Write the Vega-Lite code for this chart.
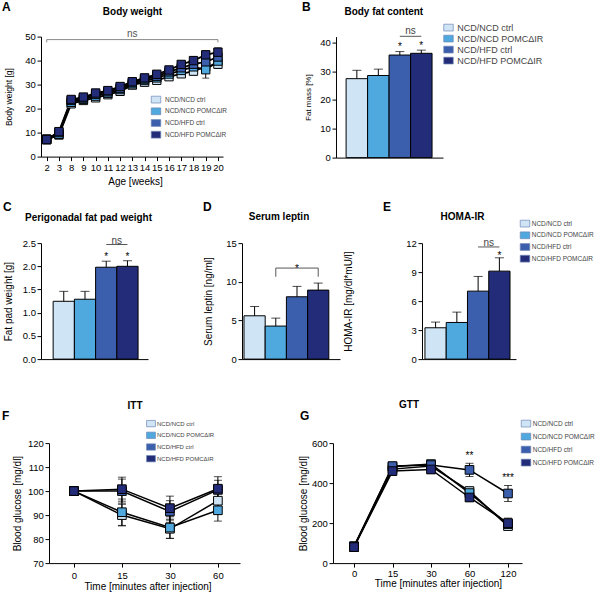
{
  "$schema": "https://vega.github.io/schema/vega-lite/v6.json",
  "background": "white",
  "padding": {"left": 2, "top": 0.6, "right": 0, "bottom": 0},
  "config": {
    "font": "Liberation Sans",
    "view": {"stroke": null},
    "axis": {"labelFontSize": 9.5, "titleFontSize": 10, "tickSize": 4, "labelPadding": 1.6, "domainColor": "black", "tickColor": "black", "labelColor": "black", "titleColor": "black", "titleFontWeight": "normal", "grid": false, "labelFont": "Liberation Sans", "titleFont": "Liberation Sans"},
    "title": {"anchor": "start", "frame": "group", "fontSize": 12, "fontWeight": "bold", "offset": 0, "baseline": "alphabetic", "color": "black", "font": "Liberation Sans"},
    "legend": {"labelFont": "Liberation Sans", "labelColor": "#444", "padding": 0, "symbolType": "M-1.4,-1H1.4V1H-1.4Z", "symbolSize": 46, "symbolStrokeColor": "#6f86b5", "symbolStrokeWidth": 0.7, "labelLimit": 300}
  },
  "datasets": {
    "bw": [
      {"week": 2, "group": "NCD/NCD ctrl", "mean": 7.2, "sem": 0.5},
      {"week": 2, "group": "NCD/NCD POMCΔIR", "mean": 7.0, "sem": 0.5},
      {"week": 2, "group": "NCD/HFD ctrl", "mean": 7.3, "sem": 0.5},
      {"week": 2, "group": "NCD/HFD POMCΔIR", "mean": 7.1, "sem": 0.5},
      {"week": 3, "group": "NCD/NCD ctrl", "mean": 9.0, "sem": 0.6},
      {"week": 3, "group": "NCD/NCD POMCΔIR", "mean": 9.3, "sem": 0.6},
      {"week": 3, "group": "NCD/HFD ctrl", "mean": 10.0, "sem": 0.7},
      {"week": 3, "group": "NCD/HFD POMCΔIR", "mean": 10.4, "sem": 0.7},
      {"week": 8, "group": "NCD/NCD ctrl", "mean": 22.0, "sem": 0.8},
      {"week": 8, "group": "NCD/NCD POMCΔIR", "mean": 22.6, "sem": 0.8},
      {"week": 8, "group": "NCD/HFD ctrl", "mean": 23.4, "sem": 0.8},
      {"week": 8, "group": "NCD/HFD POMCΔIR", "mean": 23.8, "sem": 0.8},
      {"week": 9, "group": "NCD/NCD ctrl", "mean": 23.4, "sem": 0.8},
      {"week": 9, "group": "NCD/NCD POMCΔIR", "mean": 23.9, "sem": 0.8},
      {"week": 9, "group": "NCD/HFD ctrl", "mean": 24.4, "sem": 0.8},
      {"week": 9, "group": "NCD/HFD POMCΔIR", "mean": 24.8, "sem": 0.8},
      {"week": 10, "group": "NCD/NCD ctrl", "mean": 24.5, "sem": 0.9},
      {"week": 10, "group": "NCD/NCD POMCΔIR", "mean": 25.2, "sem": 0.9},
      {"week": 10, "group": "NCD/HFD ctrl", "mean": 26.0, "sem": 0.9},
      {"week": 10, "group": "NCD/HFD POMCΔIR", "mean": 26.5, "sem": 0.9},
      {"week": 11, "group": "NCD/NCD ctrl", "mean": 25.8, "sem": 0.9},
      {"week": 11, "group": "NCD/NCD POMCΔIR", "mean": 26.4, "sem": 0.9},
      {"week": 11, "group": "NCD/HFD ctrl", "mean": 27.0, "sem": 0.9},
      {"week": 11, "group": "NCD/HFD POMCΔIR", "mean": 27.5, "sem": 0.9},
      {"week": 12, "group": "NCD/NCD ctrl", "mean": 27.2, "sem": 1.0},
      {"week": 12, "group": "NCD/NCD POMCΔIR", "mean": 27.9, "sem": 1.0},
      {"week": 12, "group": "NCD/HFD ctrl", "mean": 28.5, "sem": 1.0},
      {"week": 12, "group": "NCD/HFD POMCΔIR", "mean": 29.2, "sem": 1.0},
      {"week": 13, "group": "NCD/NCD ctrl", "mean": 29.8, "sem": 1.0},
      {"week": 13, "group": "NCD/NCD POMCΔIR", "mean": 30.3, "sem": 1.0},
      {"week": 13, "group": "NCD/HFD ctrl", "mean": 30.8, "sem": 1.0},
      {"week": 13, "group": "NCD/HFD POMCΔIR", "mean": 31.2, "sem": 1.0},
      {"week": 14, "group": "NCD/NCD ctrl", "mean": 31.0, "sem": 1.1},
      {"week": 14, "group": "NCD/NCD POMCΔIR", "mean": 31.7, "sem": 1.1},
      {"week": 14, "group": "NCD/HFD ctrl", "mean": 32.3, "sem": 1.1},
      {"week": 14, "group": "NCD/HFD POMCΔIR", "mean": 32.8, "sem": 1.1},
      {"week": 15, "group": "NCD/NCD ctrl", "mean": 31.8, "sem": 1.2},
      {"week": 15, "group": "NCD/NCD POMCΔIR", "mean": 32.8, "sem": 1.2},
      {"week": 15, "group": "NCD/HFD ctrl", "mean": 33.5, "sem": 1.2},
      {"week": 15, "group": "NCD/HFD POMCΔIR", "mean": 34.3, "sem": 1.2},
      {"week": 16, "group": "NCD/NCD ctrl", "mean": 33.3, "sem": 1.3},
      {"week": 16, "group": "NCD/NCD POMCΔIR", "mean": 34.4, "sem": 1.3},
      {"week": 16, "group": "NCD/HFD ctrl", "mean": 35.3, "sem": 1.3},
      {"week": 16, "group": "NCD/HFD POMCΔIR", "mean": 36.1, "sem": 1.3},
      {"week": 17, "group": "NCD/NCD ctrl", "mean": 34.5, "sem": 1.4},
      {"week": 17, "group": "NCD/NCD POMCΔIR", "mean": 35.9, "sem": 1.4},
      {"week": 17, "group": "NCD/HFD ctrl", "mean": 37.0, "sem": 1.4},
      {"week": 17, "group": "NCD/HFD POMCΔIR", "mean": 38.4, "sem": 1.4},
      {"week": 18, "group": "NCD/NCD ctrl", "mean": 35.6, "sem": 1.5},
      {"week": 18, "group": "NCD/NCD POMCΔIR", "mean": 37.4, "sem": 1.5},
      {"week": 18, "group": "NCD/HFD ctrl", "mean": 38.5, "sem": 1.5},
      {"week": 18, "group": "NCD/HFD POMCΔIR", "mean": 40.0, "sem": 1.5},
      {"week": 19, "group": "NCD/NCD ctrl", "mean": 37.5, "sem": 1.6},
      {"week": 19, "group": "NCD/NCD POMCΔIR", "mean": 36.2, "sem": 3.5},
      {"week": 19, "group": "NCD/HFD ctrl", "mean": 39.5, "sem": 1.6},
      {"week": 19, "group": "NCD/HFD POMCΔIR", "mean": 42.4, "sem": 1.6},
      {"week": 20, "group": "NCD/NCD ctrl", "mean": 38.5, "sem": 1.8},
      {"week": 20, "group": "NCD/NCD POMCΔIR", "mean": 39.8, "sem": 1.8},
      {"week": 20, "group": "NCD/HFD ctrl", "mean": 41.5, "sem": 1.8},
      {"week": 20, "group": "NCD/HFD POMCΔIR", "mean": 43.5, "sem": 1.8}
    ],
    "fat": [
      {"group": "NCD/NCD ctrl", "mean": 27.4, "cap": 30.3},
      {"group": "NCD/NCD POMCΔIR", "mean": 28.5, "cap": 30.7},
      {"group": "NCD/HFD ctrl", "mean": 35.6, "cap": 36.8},
      {"group": "NCD/HFD POMCΔIR", "mean": 36.2, "cap": 37.3}
    ],
    "pad": [
      {"group": "NCD/NCD ctrl", "mean": 1.246, "cap": 1.46},
      {"group": "NCD/NCD POMCΔIR", "mean": 1.29, "cap": 1.46},
      {"group": "NCD/HFD ctrl", "mean": 1.98, "cap": 2.11},
      {"group": "NCD/HFD POMCΔIR", "mean": 2.0, "cap": 2.12}
    ],
    "lep": [
      {"group": "NCD/NCD ctrl", "mean": 5.6, "cap": 6.8},
      {"group": "NCD/NCD POMCΔIR", "mean": 4.27, "cap": 5.3},
      {"group": "NCD/HFD ctrl", "mean": 8.06, "cap": 9.4},
      {"group": "NCD/HFD POMCΔIR", "mean": 8.92, "cap": 9.83}
    ],
    "homa": [
      {"group": "NCD/NCD ctrl", "mean": 3.24, "cap": 3.83},
      {"group": "NCD/NCD POMCΔIR", "mean": 3.79, "cap": 4.86},
      {"group": "NCD/HFD ctrl", "mean": 7.03, "cap": 8.55},
      {"group": "NCD/HFD POMCΔIR", "mean": 9.1, "cap": 10.48}
    ],
    "itt": [
      {"time": 0, "group": "NCD/NCD ctrl", "mean": 100, "sem": 0},
      {"time": 0, "group": "NCD/NCD POMCΔIR", "mean": 100, "sem": 0},
      {"time": 0, "group": "NCD/HFD ctrl", "mean": 100, "sem": 0},
      {"time": 0, "group": "NCD/HFD POMCΔIR", "mean": 100, "sem": 0},
      {"time": 15, "group": "NCD/NCD ctrl", "mean": 90.0, "sem": 4.5},
      {"time": 15, "group": "NCD/NCD POMCΔIR", "mean": 91.2, "sem": 5.5},
      {"time": 15, "group": "NCD/HFD ctrl", "mean": 100.0, "sem": 5.0},
      {"time": 15, "group": "NCD/HFD POMCΔIR", "mean": 100.8, "sem": 5.0},
      {"time": 30, "group": "NCD/NCD ctrl", "mean": 84.3, "sem": 4.0},
      {"time": 30, "group": "NCD/NCD POMCΔIR", "mean": 84.8, "sem": 4.5},
      {"time": 30, "group": "NCD/HFD ctrl", "mean": 91.5, "sem": 4.5},
      {"time": 30, "group": "NCD/HFD POMCΔIR", "mean": 92.9, "sem": 5.0},
      {"time": 60, "group": "NCD/NCD ctrl", "mean": 96.0, "sem": 4.0},
      {"time": 60, "group": "NCD/NCD POMCΔIR", "mean": 92.0, "sem": 4.5},
      {"time": 60, "group": "NCD/HFD ctrl", "mean": 100.5, "sem": 4.0},
      {"time": 60, "group": "NCD/HFD POMCΔIR", "mean": 101.0, "sem": 5.0}
    ],
    "gtt": [
      {"time": 0, "group": "NCD/NCD ctrl", "mean": 82, "sem": 10},
      {"time": 0, "group": "NCD/NCD POMCΔIR", "mean": 85, "sem": 10},
      {"time": 0, "group": "NCD/HFD ctrl", "mean": 80, "sem": 8},
      {"time": 0, "group": "NCD/HFD POMCΔIR", "mean": 80, "sem": 8},
      {"time": 15, "group": "NCD/NCD ctrl", "mean": 470, "sem": 15},
      {"time": 15, "group": "NCD/NCD POMCΔIR", "mean": 482, "sem": 15},
      {"time": 15, "group": "NCD/HFD ctrl", "mean": 485, "sem": 12},
      {"time": 15, "group": "NCD/HFD POMCΔIR", "mean": 460, "sem": 20},
      {"time": 30, "group": "NCD/NCD ctrl", "mean": 485, "sem": 15},
      {"time": 30, "group": "NCD/NCD POMCΔIR", "mean": 495, "sem": 15},
      {"time": 30, "group": "NCD/HFD ctrl", "mean": 490, "sem": 20},
      {"time": 30, "group": "NCD/HFD POMCΔIR", "mean": 468, "sem": 20},
      {"time": 60, "group": "NCD/NCD ctrl", "mean": 360, "sem": 20},
      {"time": 60, "group": "NCD/NCD POMCΔIR", "mean": 350, "sem": 20},
      {"time": 60, "group": "NCD/HFD ctrl", "mean": 466, "sem": 33},
      {"time": 60, "group": "NCD/HFD POMCΔIR", "mean": 328, "sem": 20},
      {"time": 120, "group": "NCD/NCD ctrl", "mean": 185, "sem": 15},
      {"time": 120, "group": "NCD/NCD POMCΔIR", "mean": 195, "sem": 20},
      {"time": 120, "group": "NCD/HFD ctrl", "mean": 348, "sem": 40},
      {"time": 120, "group": "NCD/HFD POMCΔIR", "mean": 200, "sem": 25}
    ]
  },
  "resolve": {"scale": {"color": "independent"}},
  "spacing": 14.5,
  "align": "none",
  "vconcat": [
    {
      "hconcat": [
        {
          "width": 182, "height": 120,
          "title": {"text": "A", "dx": -39, "dy": 11.4},
          "resolve": {"axis": {"x": "independent", "y": "independent"}},
          "layer": [
            {"data": {"name": "bw"}, "mark": {"type": "line", "color": "black", "strokeWidth": 1.8},
             "encoding": {
               "x": {"field": "week", "type": "ordinal", "scale": {"type": "point", "padding": 0.44, "align": 0.53}, "axis": {"orient": "bottom", "labelAngle": 0, "labelOverlap": false, "title": "Age [weeks]", "titlePadding": 4.8, "titleX": 94}},
               "y": {"field": "mean", "type": "quantitative", "scale": {"domain": [0, 50], "nice": false}, "axis": {"values": [0, 10, 20, 30, 40, 50], "title": "Body weight [g]", "titleFontSize": 8.5, "titlePadding": 11}},
               "detail": {"field": "group"}}},
            {"data": {"name": "bw"}, "mark": {"type": "errorbar", "color": "black", "thickness": 1, "ticks": {"size": 7, "thickness": 1, "color": "black"}},
             "encoding": {
               "x": {"field": "week", "type": "ordinal", "axis": null},
               "y": {"field": "mean", "type": "quantitative", "axis": null},
               "yError": {"field": "sem"}}},
            {"data": {"name": "bw"}, "mark": {"type": "point", "shape": "square", "filled": true, "size": 70, "stroke": "black", "strokeWidth": 1, "opacity": 1},
             "encoding": {
               "x": {"field": "week", "type": "ordinal", "axis": null},
               "y": {"field": "mean", "type": "quantitative", "axis": null},
               "color": {"field": "group", "type": "nominal", "scale": {"domain": ["NCD/NCD ctrl", "NCD/NCD POMCΔIR", "NCD/HFD ctrl", "NCD/HFD POMCΔIR"], "range": ["#cfe5f6", "#4fa8de", "#3b5ead", "#232c78"]},
                 "legend": {"orient": "none", "legendX": 111, "legendY": 59, "title": null, "labelFontSize": 6.5, "rowPadding": 1.7, "labelOffset": 5, "symbolSize": 46}}}},
            {"data": {"values": [{"week": 2, "week2": 20, "y": 48.75}]}, "mark": {"type": "rule", "color": "#888", "strokeWidth": 1},
             "encoding": {"x": {"field": "week", "type": "ordinal", "axis": null}, "x2": {"field": "week2"}, "y": {"field": "y", "type": "quantitative", "axis": null}}},
            {"data": {"values": [{"week": 2, "y1": 47.6, "y2": 48.75}, {"week": 20, "y1": 47.6, "y2": 48.75}]}, "mark": {"type": "rule", "color": "#888", "strokeWidth": 1},
             "encoding": {"x": {"field": "week", "type": "ordinal", "axis": null}, "y": {"field": "y1", "type": "quantitative", "axis": null}, "y2": {"field": "y2"}}},
            {"data": {"values": [{"week": 13, "y": 51.0, "label": "ns"}]}, "mark": {"type": "text", "fontSize": 10, "color": "#555"},
             "encoding": {"x": {"field": "week", "type": "ordinal", "axis": {"orient": "top", "domain": false, "ticks": false, "labels": false, "title": "Body weight", "titleFontWeight": "bold", "titlePadding": 20.4, "titleX": 91}},
               "y": {"field": "y", "type": "quantitative", "axis": null}, "text": {"field": "label"}}}
          ]
        },
        {
          "width": 107, "height": 121,
          "title": {"text": "B", "dx": -34, "dy": 11.4},
          "resolve": {"axis": {"x": "independent", "y": "independent"}},
          "layer": [
            {"data": {"name": "fat"}, "mark": {"type": "bar", "stroke": "black", "strokeWidth": 1},
             "encoding": {
               "x": {"field": "group", "type": "nominal", "scale": {"domain": ["NCD/NCD ctrl", "NCD/NCD POMCΔIR", "NCD/HFD ctrl", "NCD/HFD POMCΔIR"], "paddingInner": 0, "paddingOuter": 0.49, "align": 0.48}, "axis": {"orient": "bottom", "labels": false, "ticks": false, "title": null}},
               "y": {"field": "mean", "type": "quantitative", "scale": {"domain": [0, 42], "nice": false}, "axis": {"values": [0, 10, 20, 30, 40], "title": "Fat mass [%]", "titleFontSize": 8, "titlePadding": 7.4}},
               "color": {"field": "group", "type": "nominal", "scale": {"domain": ["NCD/NCD ctrl", "NCD/NCD POMCΔIR", "NCD/HFD ctrl", "NCD/HFD POMCΔIR"], "range": ["#cfe5f6", "#4fa8de", "#3b5ead", "#232c78"]},
                 "legend": {"orient": "none", "legendX": 108, "legendY": -13.5, "title": null, "labelFontSize": 9, "rowPadding": 0, "labelOffset": 4.3}}}},
            {"data": {"name": "fat"}, "mark": {"type": "rule", "color": "black", "strokeWidth": 1},
             "encoding": {"x": {"field": "group", "type": "nominal", "scale": {"domain": ["NCD/NCD ctrl", "NCD/NCD POMCΔIR", "NCD/HFD ctrl", "NCD/HFD POMCΔIR"]}, "axis": null}, "y": {"field": "mean", "type": "quantitative", "axis": null}, "y2": {"field": "cap"}}},
            {"data": {"name": "fat"}, "mark": {"type": "tick", "color": "black", "size": 9, "thickness": 1},
             "encoding": {"x": {"field": "group", "type": "nominal", "scale": {"domain": ["NCD/NCD ctrl", "NCD/NCD POMCΔIR", "NCD/HFD ctrl", "NCD/HFD POMCΔIR"]}, "axis": null}, "y": {"field": "cap", "type": "quantitative", "axis": null}}},
            {"data": {"values": [{"group": "NCD/HFD ctrl", "y": 38.4, "label": "*"}, {"group": "NCD/HFD POMCΔIR", "y": 38.7, "label": "*"}]}, "mark": {"type": "text", "fontSize": 10, "color": "black"},
             "encoding": {"x": {"field": "group", "type": "nominal", "scale": {"domain": ["NCD/NCD ctrl", "NCD/NCD POMCΔIR", "NCD/HFD ctrl", "NCD/HFD POMCΔIR"]}, "axis": null}, "y": {"field": "y", "type": "quantitative", "axis": null}, "text": {"field": "label"}}},
            {"data": {"values": [{"group": "NCD/HFD ctrl", "group2": "NCD/HFD POMCΔIR", "y": 42.1}]}, "mark": {"type": "rule", "color": "#555", "strokeWidth": 1},
             "encoding": {"x": {"field": "group", "type": "nominal", "scale": {"domain": ["NCD/NCD ctrl", "NCD/NCD POMCΔIR", "NCD/HFD ctrl", "NCD/HFD POMCΔIR"]}, "axis": null}, "x2": {"field": "group2"}, "y": {"field": "y", "type": "quantitative", "axis": null}}},
            {"data": {"values": [{"group": "NCD/HFD ctrl", "y": 43.9, "label": "ns"}]}, "mark": {"type": "text", "fontSize": 10, "color": "#444"},
             "encoding": {"x": {"field": "group", "type": "nominal", "bandPosition": 1, "scale": {"domain": ["NCD/NCD ctrl", "NCD/NCD POMCΔIR", "NCD/HFD ctrl", "NCD/HFD POMCΔIR"]}, "axis": {"orient": "top", "domain": false, "ticks": false, "labels": false, "title": "Body fat content", "titleFontWeight": "bold", "titlePadding": 20.4, "titleX": 47.3}},
               "y": {"field": "y", "type": "quantitative", "axis": null}, "text": {"field": "label"}}}
          ]
        }
      ],
      "spacing": 113,
      "bounds": "flush",
      "resolve": {"scale": {"color": "independent"}}
    },
    {
      "align": "none",
      "vconcat": [
        {
          "hconcat": [
            {
              "width": 107, "height": 116,
              "title": {"text": "C", "dx": -38, "dy": 6},
              "resolve": {"axis": {"x": "independent", "y": "independent"}},
              "layer": [
                {"data": {"name": "pad"}, "mark": {"type": "bar", "stroke": "black", "strokeWidth": 1},
                 "encoding": {
                   "x": {"field": "group", "type": "nominal", "scale": {"domain": ["NCD/NCD ctrl", "NCD/NCD POMCΔIR", "NCD/HFD ctrl", "NCD/HFD POMCΔIR"], "paddingInner": 0, "paddingOuter": 0.52, "align": 0.55}, "axis": {"orient": "bottom", "labels": false, "ticks": false, "title": null}},
                   "y": {"field": "mean", "type": "quantitative", "scale": {"domain": [0, 2.5], "nice": false}, "axis": {"values": [0, 0.5, 1, 1.5, 2, 2.5], "format": ".1f", "title": "Fat pad weight [g]", "titlePadding": 8.5}},
                   "color": {"field": "group", "type": "nominal", "scale": {"domain": ["NCD/NCD ctrl", "NCD/NCD POMCΔIR", "NCD/HFD ctrl", "NCD/HFD POMCΔIR"], "range": ["#cfe5f6", "#4fa8de", "#3b5ead", "#232c78"]}, "legend": null}}},
                {"data": {"name": "pad"}, "mark": {"type": "rule", "color": "black", "strokeWidth": 1},
                 "encoding": {"x": {"field": "group", "type": "nominal", "scale": {"domain": ["NCD/NCD ctrl", "NCD/NCD POMCΔIR", "NCD/HFD ctrl", "NCD/HFD POMCΔIR"]}, "axis": null}, "y": {"field": "mean", "type": "quantitative", "axis": null}, "y2": {"field": "cap"}}},
                {"data": {"name": "pad"}, "mark": {"type": "tick", "color": "black", "size": 9, "thickness": 1},
                 "encoding": {"x": {"field": "group", "type": "nominal", "scale": {"domain": ["NCD/NCD ctrl", "NCD/NCD POMCΔIR", "NCD/HFD ctrl", "NCD/HFD POMCΔIR"]}, "axis": null}, "y": {"field": "cap", "type": "quantitative", "axis": null}}},
                {"data": {"values": [{"group": "NCD/HFD ctrl", "y": 2.2, "label": "*"}, {"group": "NCD/HFD POMCΔIR", "y": 2.2, "label": "*"}]}, "mark": {"type": "text", "fontSize": 10, "color": "black"},
                 "encoding": {"x": {"field": "group", "type": "nominal", "scale": {"domain": ["NCD/NCD ctrl", "NCD/NCD POMCΔIR", "NCD/HFD ctrl", "NCD/HFD POMCΔIR"]}, "axis": null}, "y": {"field": "y", "type": "quantitative", "axis": null}, "text": {"field": "label"}}},
                {"data": {"values": [{"group": "NCD/HFD ctrl", "group2": "NCD/HFD POMCΔIR", "y": 2.47}]}, "mark": {"type": "rule", "color": "#555", "strokeWidth": 1},
                 "encoding": {"x": {"field": "group", "type": "nominal", "scale": {"domain": ["NCD/NCD ctrl", "NCD/NCD POMCΔIR", "NCD/HFD ctrl", "NCD/HFD POMCΔIR"]}, "axis": null}, "x2": {"field": "group2"}, "y": {"field": "y", "type": "quantitative", "axis": null}}},
                {"data": {"values": [{"group": "NCD/HFD ctrl", "y": 2.54, "label": "ns"}]}, "mark": {"type": "text", "fontSize": 10, "color": "#444"},
                 "encoding": {"x": {"field": "group", "type": "nominal", "bandPosition": 1, "scale": {"domain": ["NCD/NCD ctrl", "NCD/NCD POMCΔIR", "NCD/HFD ctrl", "NCD/HFD POMCΔIR"]}, "axis": {"orient": "top", "domain": false, "ticks": false, "labels": false, "title": "Perigonadal fat pad weight", "titleFontWeight": "bold", "titlePadding": 21, "titleX": 47}},
                   "y": {"field": "y", "type": "quantitative", "axis": null}, "text": {"field": "label"}}}
              ]
            },
            {
              "hconcat": [
                {
                  "width": 98, "height": 116,
                  "title": {"text": "D", "dx": -39, "dy": 6.4},
                  "resolve": {"axis": {"x": "independent", "y": "independent"}},
                  "layer": [
                    {"data": {"name": "lep"}, "mark": {"type": "bar", "stroke": "black", "strokeWidth": 1},
                     "encoding": {
                       "x": {"field": "group", "type": "nominal", "scale": {"domain": ["NCD/NCD ctrl", "NCD/NCD POMCΔIR", "NCD/HFD ctrl", "NCD/HFD POMCΔIR"], "paddingInner": 0, "paddingOuter": 0.31, "align": 0.15}, "axis": {"orient": "bottom", "labels": false, "ticks": false, "title": null}},
                       "y": {"field": "mean", "type": "quantitative", "scale": {"domain": [0, 15], "nice": false}, "axis": {"values": [0, 5, 10, 15], "title": "Serum leptin [ng/ml]", "titlePadding": 12}},
                       "color": {"field": "group", "type": "nominal", "scale": {"domain": ["NCD/NCD ctrl", "NCD/NCD POMCΔIR", "NCD/HFD ctrl", "NCD/HFD POMCΔIR"], "range": ["#cfe5f6", "#4fa8de", "#3b5ead", "#232c78"]}, "legend": null}}},
                    {"data": {"name": "lep"}, "mark": {"type": "rule", "color": "black", "strokeWidth": 1},
                     "encoding": {"x": {"field": "group", "type": "nominal", "scale": {"domain": ["NCD/NCD ctrl", "NCD/NCD POMCΔIR", "NCD/HFD ctrl", "NCD/HFD POMCΔIR"]}, "axis": null}, "y": {"field": "mean", "type": "quantitative", "axis": null}, "y2": {"field": "cap"}}},
                    {"data": {"name": "lep"}, "mark": {"type": "tick", "color": "black", "size": 9, "thickness": 1},
                     "encoding": {"x": {"field": "group", "type": "nominal", "scale": {"domain": ["NCD/NCD ctrl", "NCD/NCD POMCΔIR", "NCD/HFD ctrl", "NCD/HFD POMCΔIR"]}, "axis": null}, "y": {"field": "cap", "type": "quantitative", "axis": null}}},
                    {"data": {"values": [{"group": "NCD/NCD POMCΔIR", "group2": "NCD/HFD POMCΔIR", "y": 11.77}]}, "mark": {"type": "rule", "color": "#555", "strokeWidth": 1},
                     "encoding": {"x": {"field": "group", "type": "nominal", "scale": {"domain": ["NCD/NCD ctrl", "NCD/NCD POMCΔIR", "NCD/HFD ctrl", "NCD/HFD POMCΔIR"]}, "axis": null}, "x2": {"field": "group2"}, "y": {"field": "y", "type": "quantitative", "axis": null}}},
                    {"data": {"values": [{"group": "NCD/NCD POMCΔIR", "y1": 10.65, "y2": 11.77}, {"group": "NCD/HFD POMCΔIR", "y1": 10.65, "y2": 11.77}]}, "mark": {"type": "rule", "color": "#555", "strokeWidth": 1},
                     "encoding": {"x": {"field": "group", "type": "nominal", "scale": {"domain": ["NCD/NCD ctrl", "NCD/NCD POMCΔIR", "NCD/HFD ctrl", "NCD/HFD POMCΔIR"]}, "axis": null}, "y": {"field": "y1", "type": "quantitative", "axis": null}, "y2": {"field": "y2"}}},
                    {"data": {"values": [{"group": "NCD/HFD ctrl", "y": 11.6, "label": "*"}]}, "mark": {"type": "text", "fontSize": 10, "color": "black"},
                     "encoding": {"x": {"field": "group", "type": "nominal", "scale": {"domain": ["NCD/NCD ctrl", "NCD/NCD POMCΔIR", "NCD/HFD ctrl", "NCD/HFD POMCΔIR"]}, "axis": {"orient": "top", "domain": false, "ticks": false, "labels": false, "title": "Serum leptin", "titleFontWeight": "bold", "titlePadding": 21.4, "titleX": 36.5}},
                       "y": {"field": "y", "type": "quantitative", "axis": null}, "text": {"field": "label"}}}
                  ]
                },
                {
                  "width": 94, "height": 116,
                  "title": {"text": "E", "dx": -39, "dy": 6.4},
                  "resolve": {"axis": {"x": "independent", "y": "independent"}},
                  "layer": [
                    {"data": {"name": "homa"}, "mark": {"type": "bar", "stroke": "black", "strokeWidth": 1},
                     "encoding": {
                       "x": {"field": "group", "type": "nominal", "scale": {"domain": ["NCD/NCD ctrl", "NCD/NCD POMCΔIR", "NCD/HFD ctrl", "NCD/HFD POMCΔIR"], "paddingInner": 0, "paddingOuter": 0.21, "align": 0.33}, "axis": {"orient": "bottom", "labels": false, "ticks": false, "title": null}},
                       "y": {"field": "mean", "type": "quantitative", "scale": {"domain": [0, 12], "nice": false}, "axis": {"values": [0, 3, 6, 9, 12], "title": "HOMA-IR [mg/dl*mU/l]", "titlePadding": 52}},
                       "color": {"field": "group", "type": "nominal", "scale": {"domain": ["NCD/NCD ctrl", "NCD/NCD POMCΔIR", "NCD/HFD ctrl", "NCD/HFD POMCΔIR"], "range": ["#cfe5f6", "#4fa8de", "#3b5ead", "#232c78"]},
                         "legend": {"orient": "none", "legendX": 99, "legendY": -23.5, "title": null, "labelFontSize": 6.5, "rowPadding": 1.7, "labelOffset": 2.7}}}},
                    {"data": {"name": "homa"}, "mark": {"type": "rule", "color": "black", "strokeWidth": 1},
                     "encoding": {"x": {"field": "group", "type": "nominal", "scale": {"domain": ["NCD/NCD ctrl", "NCD/NCD POMCΔIR", "NCD/HFD ctrl", "NCD/HFD POMCΔIR"]}, "axis": null}, "y": {"field": "mean", "type": "quantitative", "axis": null}, "y2": {"field": "cap"}}},
                    {"data": {"name": "homa"}, "mark": {"type": "tick", "color": "black", "size": 9, "thickness": 1},
                     "encoding": {"x": {"field": "group", "type": "nominal", "scale": {"domain": ["NCD/NCD ctrl", "NCD/NCD POMCΔIR", "NCD/HFD ctrl", "NCD/HFD POMCΔIR"]}, "axis": null}, "y": {"field": "cap", "type": "quantitative", "axis": null}}},
                    {"data": {"values": [{"group": "NCD/HFD POMCΔIR", "y": 10.67, "label": "*"}]}, "mark": {"type": "text", "fontSize": 10, "color": "black"},
                     "encoding": {"x": {"field": "group", "type": "nominal", "scale": {"domain": ["NCD/NCD ctrl", "NCD/NCD POMCΔIR", "NCD/HFD ctrl", "NCD/HFD POMCΔIR"]}, "axis": null}, "y": {"field": "y", "type": "quantitative", "axis": null}, "text": {"field": "label"}}},
                    {"data": {"values": [{"group": "NCD/HFD ctrl", "group2": "NCD/HFD POMCΔIR", "y": 11.6}]}, "mark": {"type": "rule", "color": "#555", "strokeWidth": 1},
                     "encoding": {"x": {"field": "group", "type": "nominal", "scale": {"domain": ["NCD/NCD ctrl", "NCD/NCD POMCΔIR", "NCD/HFD ctrl", "NCD/HFD POMCΔIR"]}, "axis": null}, "x2": {"field": "group2"}, "y": {"field": "y", "type": "quantitative", "axis": null}}},
                    {"data": {"values": [{"group": "NCD/HFD ctrl", "y": 12.03, "label": "ns"}]}, "mark": {"type": "text", "fontSize": 10, "color": "#444"},
                     "encoding": {"x": {"field": "group", "type": "nominal", "bandPosition": 1, "scale": {"domain": ["NCD/NCD ctrl", "NCD/NCD POMCΔIR", "NCD/HFD ctrl", "NCD/HFD POMCΔIR"]}, "axis": {"orient": "top", "domain": false, "ticks": false, "labels": false, "title": "HOMA-IR", "titleFontWeight": "bold", "titlePadding": 21.4, "titleX": 40}},
                       "y": {"field": "y", "type": "quantitative", "axis": null}, "text": {"field": "label"}}}
                  ]
                }
              ],
              "spacing": 82,
              "bounds": "flush",
              "resolve": {"scale": {"color": "independent"}}
            }
          ],
          "spacing": 51,
          "resolve": {"scale": {"color": "independent"}}
        },
        {
          "hconcat": [
            {
              "width": 199, "height": 120,
              "title": {"text": "F", "dx": -39, "dy": 27},
              "resolve": {"axis": {"x": "independent", "y": "independent"}},
              "layer": [
                {"data": {"name": "itt"}, "mark": {"type": "line", "color": "black", "strokeWidth": 1.5},
                 "encoding": {
                   "x": {"field": "time", "type": "ordinal", "scale": {"type": "point", "range": [8, 199], "padding": 0.49, "align": 0.53}, "axis": {"orient": "bottom", "labelAngle": 0, "labelPadding": 3, "title": "Time [minutes after injection]", "titlePadding": 2, "titleX": 106.5}},
                   "y": {"field": "mean", "type": "quantitative", "scale": {"domain": [70, 120], "nice": false, "zero": false}, "axis": {"values": [70, 80, 90, 100, 110, 120], "title": "Blood glucose [mg/dl]", "titlePadding": 5, "offset": -8}},
                   "detail": {"field": "group"}}},
                {"data": {"name": "itt"}, "mark": {"type": "errorbar", "color": "black", "thickness": 1, "ticks": {"size": 8, "thickness": 1, "color": "black"}},
                 "encoding": {
                   "x": {"field": "time", "type": "ordinal", "axis": null},
                   "y": {"field": "mean", "type": "quantitative", "axis": null},
                   "yError": {"field": "sem"}}},
                {"data": {"name": "itt"}, "mark": {"type": "point", "shape": "square", "filled": true, "size": 75, "stroke": "black", "strokeWidth": 1, "opacity": 1},
                 "encoding": {
                   "x": {"field": "time", "type": "ordinal", "axis": {"orient": "top", "domain": false, "ticks": false, "labels": false, "title": "ITT", "titleFontWeight": "bold", "titlePadding": 33, "titleX": 93.5}},
                   "y": {"field": "mean", "type": "quantitative", "axis": null},
                   "color": {"field": "group", "type": "nominal", "scale": {"domain": ["NCD/NCD ctrl", "NCD/NCD POMCΔIR", "NCD/HFD ctrl", "NCD/HFD POMCΔIR"], "range": ["#cfe5f6", "#4fa8de", "#3b5ead", "#232c78"]},
                     "legend": {"orient": "none", "legendX": 106, "legendY": -23.5, "title": null, "labelFontSize": 6, "rowPadding": 1.7, "labelOffset": 2, "symbolSize": 40}}}}
              ]
            },
            {
              "width": 189, "height": 120,
              "title": {"text": "G", "dx": -33, "dy": 27.4},
              "resolve": {"axis": {"x": "independent", "y": "independent"}},
              "layer": [
                {"data": {"name": "gtt"}, "mark": {"type": "line", "color": "black", "strokeWidth": 1.5},
                 "encoding": {
                   "x": {"field": "time", "type": "ordinal", "scale": {"type": "point", "padding": 0.455, "align": 0.6}, "axis": {"orient": "bottom", "labelAngle": 0, "labelPadding": 1, "title": "Time [minutes after injection]", "titlePadding": 1, "titleX": 105}},
                   "y": {"field": "mean", "type": "quantitative", "scale": {"domain": [0, 600], "nice": false}, "axis": {"values": [0, 200, 400, 600], "title": "Blood glucose [mg/dl]", "titlePadding": 3}},
                   "detail": {"field": "group"}}},
                {"data": {"name": "gtt"}, "mark": {"type": "errorbar", "color": "black", "thickness": 1, "ticks": {"size": 8, "thickness": 1, "color": "black"}},
                 "encoding": {
                   "x": {"field": "time", "type": "ordinal", "axis": null},
                   "y": {"field": "mean", "type": "quantitative", "axis": null},
                   "yError": {"field": "sem"}}},
                {"data": {"name": "gtt"}, "mark": {"type": "point", "shape": "square", "filled": true, "size": 75, "stroke": "black", "strokeWidth": 1, "opacity": 1},
                 "encoding": {
                   "x": {"field": "time", "type": "ordinal", "axis": null},
                   "y": {"field": "mean", "type": "quantitative", "axis": null},
                   "color": {"field": "group", "type": "nominal", "scale": {"domain": ["NCD/NCD ctrl", "NCD/NCD POMCΔIR", "NCD/HFD ctrl", "NCD/HFD POMCΔIR"], "range": ["#cfe5f6", "#4fa8de", "#3b5ead", "#232c78"]},
                     "legend": {"orient": "none", "legendX": 189, "legendY": -23.5, "title": null, "labelFontSize": 6.5, "rowPadding": 3, "labelOffset": 2.7, "symbolSize": 46}}}},
                {"data": {"values": [{"time": 60, "y": 535, "label": "**"}, {"time": 120, "y": 426, "label": "***"}]}, "mark": {"type": "text", "fontSize": 10, "color": "black"},
                 "encoding": {"x": {"field": "time", "type": "ordinal", "axis": {"orient": "top", "domain": false, "ticks": false, "labels": false, "title": "GTT", "titleFontWeight": "bold", "titlePadding": 33.4, "titleX": 75.5}},
                   "y": {"field": "y", "type": "quantitative", "axis": null}, "text": {"field": "label"}}}
              ]
            }
          ],
          "spacing": 93,
          "bounds": "flush",
          "resolve": {"scale": {"color": "independent"}}
        }
      ],
      "spacing": 35,
      "resolve": {"scale": {"color": "independent"}}
    }
  ]
}
